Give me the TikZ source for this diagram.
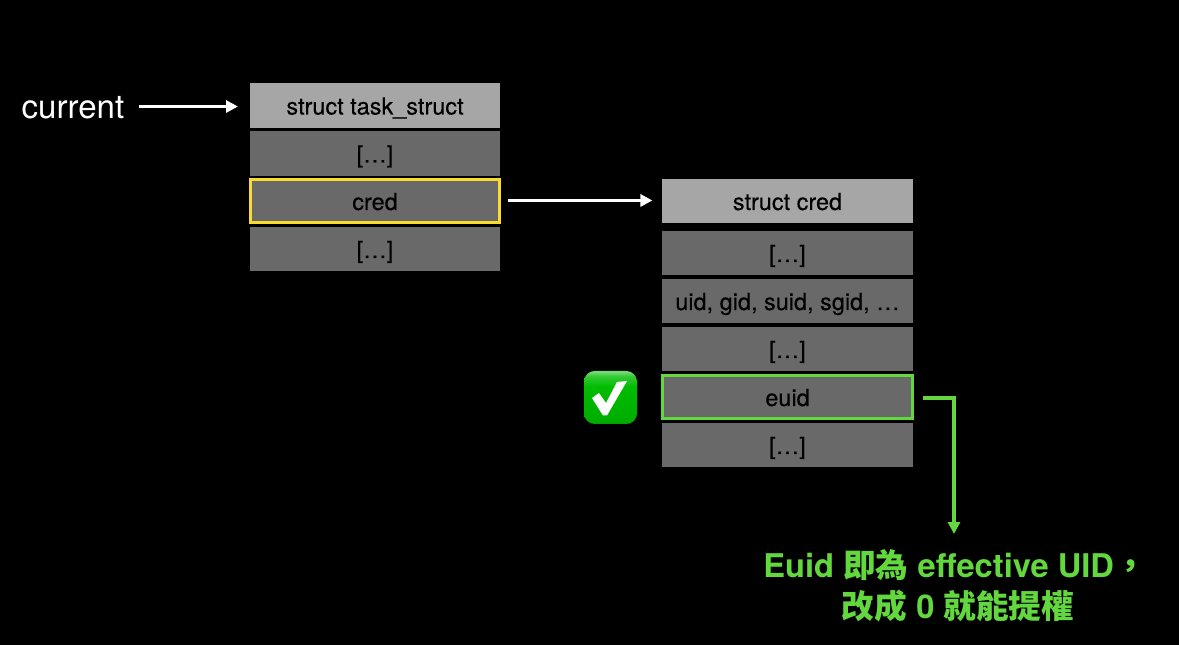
\documentclass[tikz,border=0pt]{standalone}
\usepackage{fontspec}
\setmainfont{TeX Gyre Heros}
\newfontfamily\cjk{Noto Sans CJK TC}
\newfontfamily\cellfont[FakeBold=0.25]{TeX Gyre Heros}
\usetikzlibrary{arrows.meta}
\definecolor{hdr}{HTML}{A6A6A6}
\definecolor{cell}{HTML}{696969}
\definecolor{gold}{HTML}{F9DC2B}
\definecolor{lime}{HTML}{62D83E}
\definecolor{chkbody}{HTML}{00BC00}
\pgfdeclareverticalshading{chkshade}{100bp}{
 color(0bp)=(chkbody!80!black);
 color(25bp)=(chkbody!80!black);
 color(27bp)=(chkbody!92!black);
 color(60bp)=(chkbody);
 color(70bp)=(chkbody!80!white);
 color(74bp)=(chkbody!55!white);
 color(75bp)=(chkbody!55!white);
 color(100bp)=(chkbody!55!white)}
\tikzset{
 x=0.75pt,y=-0.75pt,
 cellbox/.style={minimum height=33pt,inner sep=0pt,anchor=center,text=black,text height=13.5pt,text depth=0pt,font=\cellfont\fontsize{17.6}{17.6}\selectfont,fill=cell},
 leftw/.style={minimum width=187.5pt},
 rightw/.style={minimum width=188.25pt},
 hdrbox/.style={cellbox,fill=hdr},
 wire/.style={draw=white,line width=2.25pt,-{Triangle[length=9pt,width=9pt]}},
 limewire/.style={draw=lime,line width=3pt,-{Triangle[length=9pt,width=9pt]}},
}
\begin{document}
\begin{tikzpicture}
\useasboundingbox[fill=black] (0,0) rectangle (1179,645);
\node[text=white,font=\fontsize{24.8}{24.8}\selectfont,anchor=base,inner sep=0pt] (cur) at (73,118.5) {current};
\node[hdrbox,leftw,minimum height=33.75pt] (t0) at (375,105.5) {struct task\_struct};
\node[cellbox,leftw,minimum height=33.75pt] (t1) at (375,153.5) {[…]};
\node[cellbox,draw=gold,line width=2.25pt,minimum width=186.75pt,minimum height=32.25pt] (t2) at (375,201) {cred};
\node[cellbox,leftw] (t3) at (375,249) {[…]};
\node[hdrbox,rightw] (c0) at (787.5,201) {struct cred};
\node[cellbox,rightw] (c1) at (787.5,253) {[…]};
\node[cellbox,rightw] (c2) at (787.5,301) {uid, gid, suid, sgid, …};
\node[cellbox,rightw] (c3) at (787.5,349) {[…]};
\node[cellbox,draw=lime,line width=2.5pt,minimum width=187.5pt,minimum height=32.25pt] (c4) at (787.5,397) {euid};
\node[cellbox,rightw] (c5) at (787.5,445) {[…]};
% check mark
\shade[rounded corners=8pt,shading=chkshade] (584,371) rectangle (637,424);
\fill[white] (592,398) -- (599,393) -- (606,403) -- (617,382) -- (627,381) -- (607,415.5) -- (603,415.5) -- cycle;
\node[text=lime,font=\fontsize{24.5}{24.5}\bfseries\selectfont,align=center,anchor=north,inner sep=0pt] (lab) at (955,549)
 {Euid {\cjk\bfseries 即為} effective UID{\cjk\bfseries ，}\\[6.5pt]\hspace*{4.5pt}{\cjk\bfseries 改成} 0 {\cjk\bfseries 就能提權}};
\coordinate (a1) at ([xshift=6.5pt]c4.east);
\coordinate (a2) at (954,398);
\coordinate (a3) at (954,534);
\coordinate (a0) at (139,106);
\coordinate (a0e) at (238,106);
\coordinate (b0) at ([shift={(5pt,0.4pt)}]t2.east);
\coordinate (b1) at ([shift={(-7pt,0.4pt)}]c0.west);
\draw[wire] ([yshift=-0.4pt]a0) -- ([yshift=-0.4pt]a0e);
\draw[wire] (b0) -- (b1);
\draw[limewire] (a1 |- a2) -- (a2) -- (a3);
\end{tikzpicture}
\end{document}
